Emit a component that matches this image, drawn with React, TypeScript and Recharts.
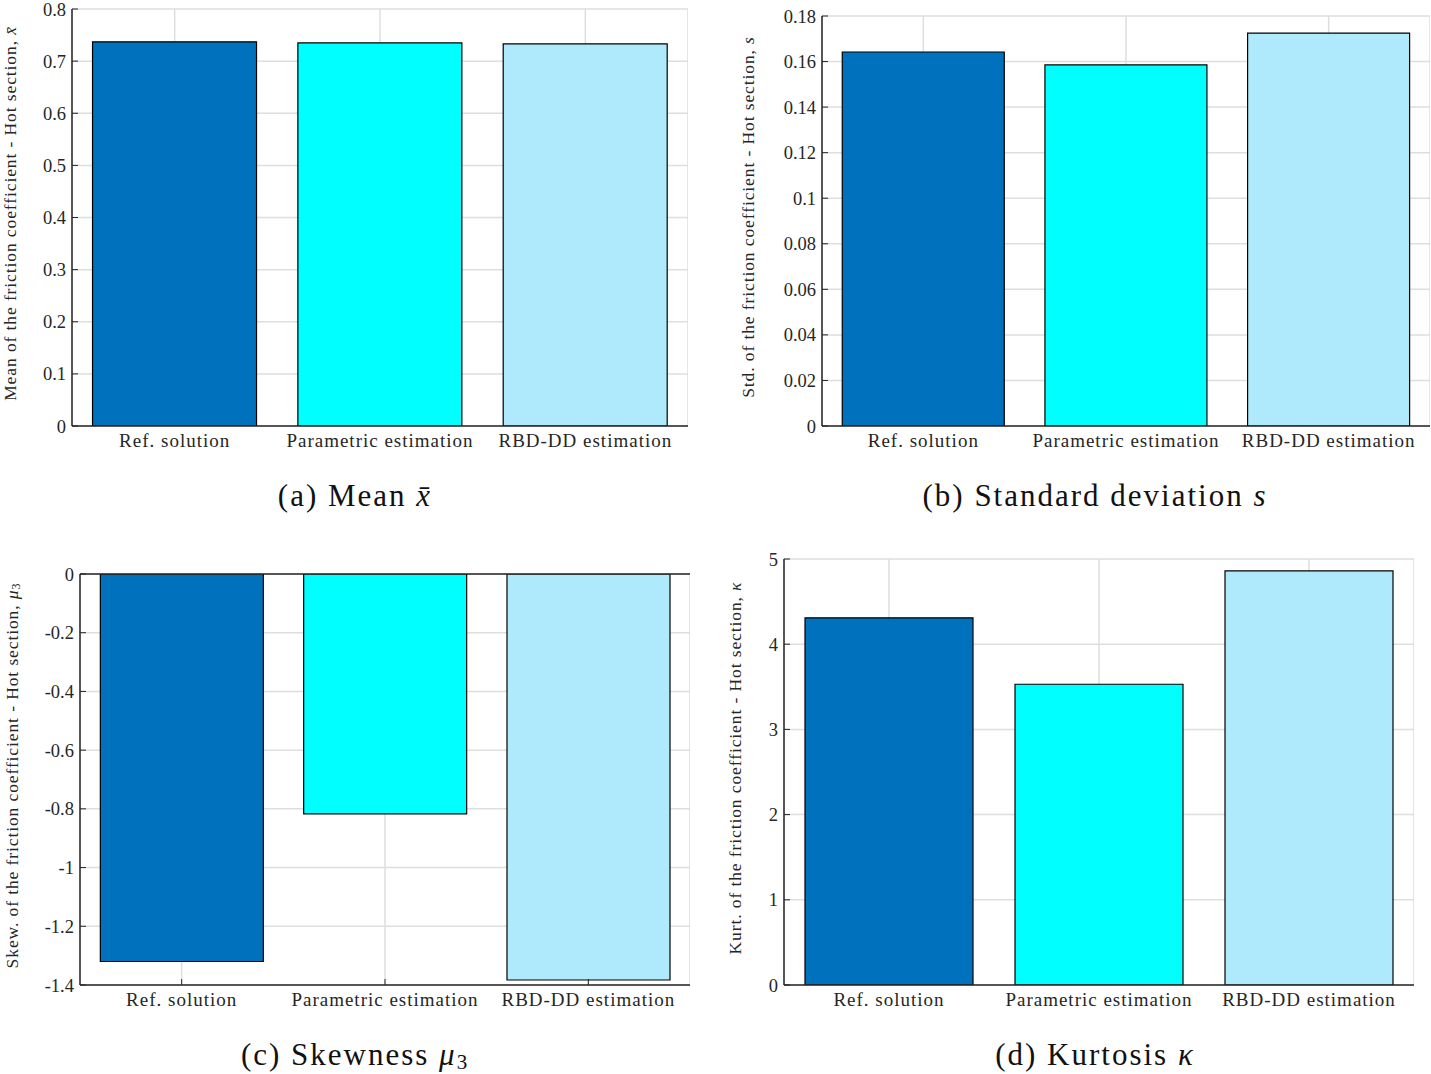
import React from 'react';
import { BarChart, Bar, XAxis, YAxis, CartesianGrid, Cell, ReferenceLine } from 'recharts';

const categories = ['Ref. solution', 'Parametric estimation', 'RBD-DD estimation'];
const barColors = ['#0072bd', '#00ffff', '#aeeafc'];

const meanValues = [0.737, 0.735, 0.733];
const stdValues = [0.1642, 0.1585, 0.1725];
const skewValues = [-1.32, -0.817, -1.383];
const kurtValues = [4.31, 3.53, 4.86];

const meanTicks = [0, 0.1, 0.2, 0.3, 0.4, 0.5, 0.6, 0.7, 0.8];
const stdTicks = [0, 0.02, 0.04, 0.06, 0.08, 0.1, 0.12, 0.14, 0.16, 0.18];
const skewTicks = [-1.4, -1.2, -1, -0.8, -0.6, -0.4, -0.2, 0];
const kurtTicks = [0, 1, 2, 3, 4, 5];

const FONT = '"Liberation Serif", serif';
const INK = '#262626';
const GRID = '#dedede';
const Y_AXIS_W = 90;

interface PanelProps {
  values: number[];
  ticks: number[];
  domain: [number, number];
  plot: { x: number; y: number; w: number; h: number };
  labelOffset: number;
  yLabel: React.ReactNode;
  xTicksInside?: boolean;
  zeroLine?: boolean;
}

const Panel: React.FC<PanelProps> = ({ values, ticks, domain, plot, labelOffset, yLabel, xTicksInside, zeroLine }) => {
  const data = categories.map((name, i) => ({ name, value: values[i] }));
  const top = 10;
  const xAxisH = 40;
  const renderLabel = (props: any) => {
    const vb = props.viewBox || {};
    const cx = vb.x + vb.width - labelOffset;
    const cy = plot.h / 2 + top - 4;
    return (
      <text
        x={cx}
        y={cy}
        transform={`rotate(-90, ${cx}, ${cy})`}
        textAnchor="middle"
        dominantBaseline="central"
        fontFamily={FONT}
        fontSize={17.5}
        letterSpacing={0.9}
        fill={INK}
      >
        {yLabel}
      </text>
    );
  };
  return (
    <div style={{ position: 'absolute', left: plot.x - Y_AXIS_W, top: plot.y - top }}>
      <BarChart
        width={plot.w + Y_AXIS_W}
        height={plot.h + top + xAxisH}
        data={data}
        margin={{ top, right: 0, bottom: 0, left: 0 }}
        barCategoryGap="10%"
      >
        <CartesianGrid stroke={GRID} strokeWidth={1.5} />
        <XAxis
          dataKey="name"
          height={xAxisH}
          interval={0}
          stroke={INK}
          axisLine={{ stroke: INK, strokeWidth: 1.5 }}
          tickLine={xTicksInside ? { stroke: INK } : false}
          tickSize={xTicksInside ? -6 : 0}
          tickMargin={xTicksInside ? 14 : 8}
          tick={{ fill: INK, fontFamily: FONT, fontSize: 19, letterSpacing: 1 }}
        />
        <YAxis
          type="number"
          domain={domain}
          ticks={ticks}
          interval={0}
          width={Y_AXIS_W}
          allowDataOverflow
          axisLine={{ stroke: INK, strokeWidth: 1.5 }}
          tickLine={{ stroke: INK }}
          tickSize={-6}
          tickMargin={12}
          tick={{ fill: INK, fontFamily: FONT, fontSize: 18.5 }}
          label={{ content: renderLabel }}
        />
        {zeroLine && <ReferenceLine y={0} stroke={INK} strokeWidth={1.5} />}
        <Bar dataKey="value" isAnimationActive={false} stroke="#000" strokeWidth={1.2}>
          {data.map((d, i) => (
            <Cell key={`cell-${i}`} fill={barColors[i]} />
          ))}
        </Bar>
      </BarChart>
    </div>
  );
};

const captionStyle = (left: number, top: number): React.CSSProperties => ({
  position: 'absolute',
  left,
  top,
  width: 400,
  textAlign: 'center',
  fontFamily: FONT,
  fontSize: 31,
  letterSpacing: 2,
  color: '#111',
  lineHeight: '32px',
});

export default function App() {
  return (
    <div style={{ position: 'absolute', left: 0, top: 0, width: 1431, height: 1074, background: '#fff' }}>
      <Panel
        values={meanValues}
        ticks={meanTicks}
        domain={[0, 0.8]}
        plot={{ x: 72, y: 9, w: 616, h: 417 }}
        labelOffset={62}
        yLabel={<>Mean of the friction coefficient - Hot section, <tspan fontStyle="italic">x̄</tspan></>}
      />
      <Panel
        values={stdValues}
        ticks={stdTicks}
        domain={[0, 0.18]}
        plot={{ x: 822, y: 16, w: 608, h: 410 }}
        labelOffset={74}
        yLabel={<>Std. of the friction coefficient - Hot section, <tspan fontStyle="italic">s</tspan></>}
      />
      <Panel
        values={skewValues}
        ticks={skewTicks}
        domain={[-1.4, 0]}
        plot={{ x: 80, y: 574, w: 610, h: 411 }}
        labelOffset={68}
        xTicksInside
        zeroLine
        yLabel={<>Skew. of the friction coefficient - Hot section, <tspan fontStyle="italic">μ</tspan><tspan fontSize={12} dy={4}>3</tspan></>}
      />
      <Panel
        values={kurtValues}
        ticks={kurtTicks}
        domain={[0, 5]}
        plot={{ x: 784, y: 559, w: 630, h: 426 }}
        labelOffset={49}
        yLabel={<>Kurt. of the friction coefficient - Hot section, <tspan fontStyle="italic">κ</tspan></>}
      />
      <div style={captionStyle(155, 480)}>
        (a) Mean <i>x̄</i>
      </div>
      <div style={captionStyle(895, 480)}>
        (b) Standard deviation <i>s</i>
      </div>
      <div style={captionStyle(155, 1039)}>
        (c) Skewness <i>μ</i><span style={{ fontSize: 21, position: 'relative', top: 4 }}>3</span>
      </div>
      <div style={captionStyle(895, 1039)}>
        (d) Kurtosis <i>κ</i>
      </div>
    </div>
  );
}
